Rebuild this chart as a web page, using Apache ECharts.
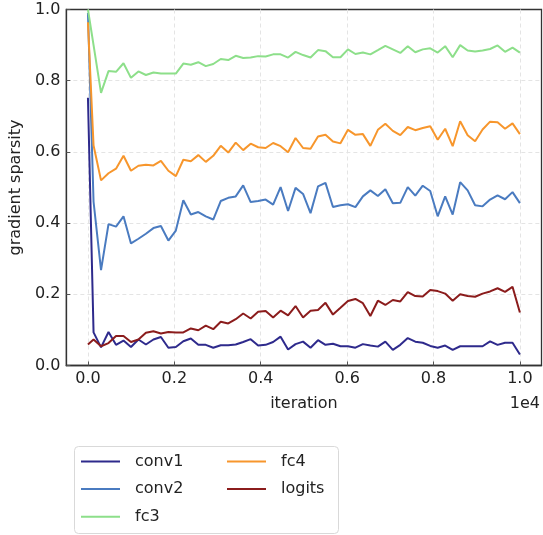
<!DOCTYPE html>
<html>
<head>
<meta charset="utf-8">
<script src="https://cdn.jsdelivr.net/npm/echarts@6/dist/echarts.min.js"></script>
<style>
html,body{margin:0;padding:0;background:#fff;}
#chart{width:543px;height:535px;}
</style>
</head>
<body>
<div id="chart"></div>
<script>
const iterations = [0, 130, 303, 476, 650, 823, 996, 1169, 1342, 1516, 1689, 1862, 2035, 2208, 2382, 2555, 2728, 2901, 3074, 3248, 3421, 3594, 3767, 3940, 4114, 4287, 4460, 4633, 4806, 4980, 5153, 5326, 5499, 5672, 5846, 6019, 6192, 6365, 6538, 6712, 6885, 7058, 7231, 7404, 7578, 7751, 7924, 8097, 8270, 8444, 8617, 8790, 8963, 9136, 9310, 9483, 9656, 9829, 10000];

const conv1 = [0.752, 0.093, 0.051, 0.094, 0.058, 0.070, 0.052, 0.073, 0.059, 0.073, 0.080, 0.050, 0.052, 0.068, 0.076, 0.058, 0.058, 0.050, 0.057, 0.057, 0.059, 0.066, 0.074, 0.056, 0.058, 0.066, 0.081, 0.045, 0.060, 0.067, 0.050, 0.071, 0.058, 0.061, 0.054, 0.054, 0.050, 0.060, 0.056, 0.053, 0.067, 0.044, 0.058, 0.077, 0.067, 0.064, 0.055, 0.050, 0.056, 0.044, 0.054, 0.054, 0.054, 0.054, 0.068, 0.058, 0.064, 0.064, 0.031];

const conv2 = [0.990, 0.460, 0.268, 0.397, 0.390, 0.419, 0.343, 0.356, 0.370, 0.386, 0.392, 0.351, 0.379, 0.464, 0.424, 0.431, 0.419, 0.410, 0.462, 0.471, 0.475, 0.506, 0.459, 0.462, 0.466, 0.452, 0.501, 0.434, 0.499, 0.482, 0.428, 0.503, 0.513, 0.445, 0.450, 0.453, 0.445, 0.475, 0.492, 0.476, 0.495, 0.456, 0.457, 0.501, 0.477, 0.505, 0.490, 0.419, 0.475, 0.424, 0.515, 0.492, 0.450, 0.447, 0.466, 0.478, 0.467, 0.487, 0.456];

const fc3 = [1.000, 0.900, 0.766, 0.827, 0.825, 0.849, 0.808, 0.826, 0.816, 0.823, 0.820, 0.820, 0.820, 0.848, 0.845, 0.852, 0.841, 0.847, 0.861, 0.858, 0.870, 0.864, 0.865, 0.869, 0.868, 0.874, 0.874, 0.865, 0.881, 0.872, 0.865, 0.886, 0.883, 0.866, 0.866, 0.888, 0.875, 0.879, 0.874, 0.886, 0.898, 0.888, 0.878, 0.897, 0.880, 0.888, 0.891, 0.879, 0.897, 0.866, 0.900, 0.885, 0.882, 0.885, 0.889, 0.899, 0.881, 0.893, 0.879];

const fc4 = [0.964, 0.618, 0.520, 0.540, 0.553, 0.589, 0.547, 0.561, 0.564, 0.562, 0.575, 0.547, 0.532, 0.578, 0.574, 0.591, 0.572, 0.589, 0.617, 0.598, 0.626, 0.605, 0.623, 0.613, 0.611, 0.625, 0.616, 0.599, 0.639, 0.611, 0.609, 0.643, 0.648, 0.629, 0.624, 0.662, 0.648, 0.650, 0.617, 0.662, 0.679, 0.659, 0.647, 0.670, 0.661, 0.667, 0.672, 0.634, 0.665, 0.616, 0.686, 0.647, 0.630, 0.663, 0.685, 0.683, 0.665, 0.680, 0.650];

const logits = [0.059, 0.073, 0.054, 0.063, 0.083, 0.083, 0.066, 0.073, 0.092, 0.096, 0.090, 0.094, 0.093, 0.093, 0.104, 0.099, 0.112, 0.102, 0.123, 0.118, 0.130, 0.146, 0.132, 0.151, 0.153, 0.135, 0.154, 0.141, 0.167, 0.135, 0.154, 0.156, 0.176, 0.143, 0.162, 0.181, 0.187, 0.175, 0.139, 0.182, 0.170, 0.184, 0.180, 0.206, 0.195, 0.194, 0.212, 0.209, 0.202, 0.182, 0.200, 0.195, 0.193, 0.202, 0.208, 0.217, 0.207, 0.221, 0.149];

const seriesNames = ['conv1', 'conv2', 'fc3', 'fc4', 'logits'];
const seriesColors = ['#2e2a8c', '#4a7bc0', '#8ddf8a', '#f7962c', '#8b1c1c'];
const xTicks = [0, 2000, 4000, 6000, 8000, 10000];

const values = [conv1, conv2, fc3, fc4, logits];
const FONT = '"DejaVu Sans", sans-serif';
const TXT = '#222';

const chart = echarts.init(document.getElementById('chart'), null, {renderer: 'canvas'});
chart.setOption({
  animation: false,
  backgroundColor: '#fff',
  grid: {left: 65, right: 1.5, top: 9.5, bottom: 169.5, show: true, borderColor: '#333', borderWidth: 1.3, backgroundColor: 'transparent'},
  xAxis: {
    type: 'value', min: -500, max: 10500,
    name: 'iteration', nameLocation: 'middle', nameGap: 30,
    nameTextStyle: {fontFamily: FONT, fontSize: 16, color: TXT},
    axisLine: {onZero: false, lineStyle: {color: '#333', width: 1.3}},
    axisTick: {inside: true, length: 4, customValues: xTicks, lineStyle: {color: '#555'}},
    axisLabel: {customValues: xTicks, margin: 5, fontFamily: FONT, fontSize: 16, color: TXT,
      formatter: v => (v / 10000).toFixed(1)},
    splitLine: {show: true, lineStyle: {color: '#e4e4e4', type: [4, 3], width: 1}}
  },
  yAxis: {
    type: 'value', min: 0, max: 1, interval: 0.2,
    name: 'gradient sparsity', nameLocation: 'middle', nameGap: 34,
    nameTextStyle: {fontFamily: FONT, fontSize: 16, color: TXT},
    axisLine: {onZero: false, lineStyle: {color: '#333', width: 1.3}},
    axisTick: {inside: true, length: 4, lineStyle: {color: '#555'}},
    axisLabel: {margin: 6, fontFamily: FONT, fontSize: 16, color: TXT, formatter: v => v.toFixed(1)},
    splitLine: {show: true, showMinLine: false, showMaxLine: false, lineStyle: {color: '#e4e4e4', type: [4, 3], width: 1}}
  },
  graphic: [
    {type: 'rect', left: 74, top: 446, z: 0, shape: {width: 264, height: 87, r: 4},
     style: {fill: '#fff', stroke: '#d9d9d9', lineWidth: 1}},
    {type: 'text', right: 3, top: 396, z: 5,
     style: {text: '1e4', font: '16px "DejaVu Sans", sans-serif', fill: TXT}}
  ],
  legend: [
    {data: ['conv1', 'conv2', 'fc3'], orient: 'vertical', left: 81, top: 452.5, padding: 0,
     itemWidth: 39, itemHeight: 2, icon: 'rect', itemGap: 9.6,
     textStyle: {fontFamily: FONT, fontSize: 16, color: TXT, lineHeight: 18, padding: [0, 0, 0, 10]}},
    {data: ['fc4', 'logits'], orient: 'vertical', left: 227, top: 452.5, padding: 0,
     itemWidth: 39, itemHeight: 2, icon: 'rect', itemGap: 9.6,
     textStyle: {fontFamily: FONT, fontSize: 16, color: TXT, lineHeight: 18, padding: [0, 0, 0, 10]}}
  ],
  series: seriesNames.map((name, s) => ({
    name: name, type: 'line', symbol: 'none', showSymbol: false,
    color: seriesColors[s],
    lineStyle: {width: 2, color: seriesColors[s]},
    data: iterations.map((x, i) => [x, values[s][i]])
  }))
});
</script>
</body>
</html>
